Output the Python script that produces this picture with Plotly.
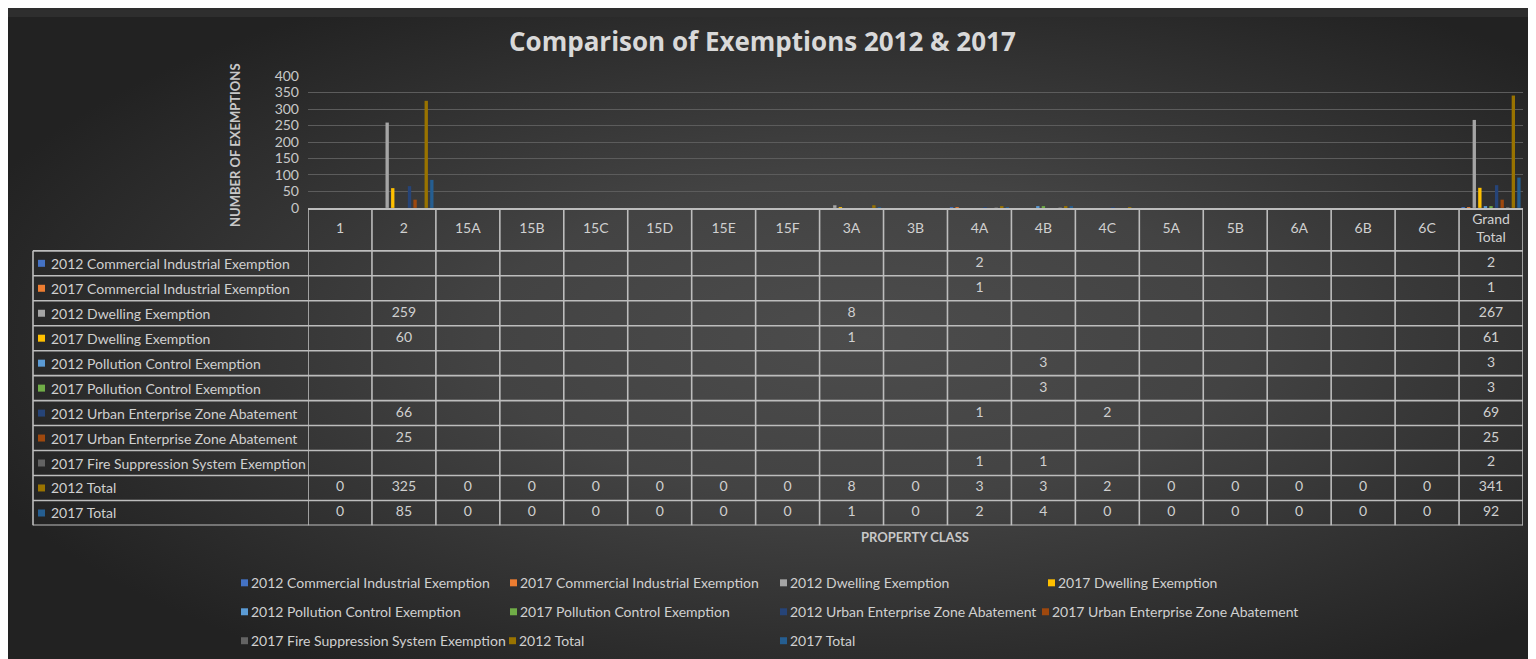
import base64
import plotly.graph_objects as go

# ---------------- data ----------------
categories = ["1", "2", "15A", "15B", "15C", "15D", "15E", "15F", "3A", "3B",
              "4A", "4B", "4C", "5A", "5B", "6A", "6B", "6C", "Grand Total"]
N = None
series_names = [
    "2012 Commercial Industrial Exemption",
    "2017 Commercial Industrial Exemption",
    "2012 Dwelling Exemption",
    "2017 Dwelling Exemption",
    "2012 Pollution Control Exemption",
    "2017 Pollution Control Exemption",
    "2012 Urban Enterprise Zone Abatement",
    "2017 Urban Enterprise Zone Abatement",
    "2017 Fire Suppression System Exemption",
    "2012 Total",
    "2017 Total",
]
com_2012 = [N, N, N, N, N, N, N, N, N, N, 2, N, N, N, N, N, N, N, 2]
com_2017 = [N, N, N, N, N, N, N, N, N, N, 1, N, N, N, N, N, N, N, 1]
dwe_2012 = [N, 259, N, N, N, N, N, N, 8, N, N, N, N, N, N, N, N, N, 267]
dwe_2017 = [N, 60, N, N, N, N, N, N, 1, N, N, N, N, N, N, N, N, N, 61]
pol_2012 = [N, N, N, N, N, N, N, N, N, N, N, 3, N, N, N, N, N, N, 3]
pol_2017 = [N, N, N, N, N, N, N, N, N, N, N, 3, N, N, N, N, N, N, 3]
uez_2012 = [N, 66, N, N, N, N, N, N, N, N, 1, N, 2, N, N, N, N, N, 69]
uez_2017 = [N, 25, N, N, N, N, N, N, N, N, N, N, N, N, N, N, N, N, 25]
fire_2017 = [N, N, N, N, N, N, N, N, N, N, 1, 1, N, N, N, N, N, N, 2]
tot_2012 = [0, 325, 0, 0, 0, 0, 0, 0, 8, 0, 3, 3, 2, 0, 0, 0, 0, 0, 341]
tot_2017 = [0, 85, 0, 0, 0, 0, 0, 0, 1, 0, 2, 4, 0, 0, 0, 0, 0, 0, 92]
series_values = [com_2012, com_2017, dwe_2012, dwe_2017, pol_2012, pol_2017,
                 uez_2012, uez_2017, fire_2017, tot_2012, tot_2017]

# ---------------- style ----------------
colors = ["#4472C4", "#ED7D31", "#A5A5A5", "#FFC000", "#5B9BD5", "#70AD47",
          "#264478", "#9E480E", "#636363", "#997300", "#255E91"]
W, H = 1528, 659
FONT = "Lato"
TXT = "#d0d0d0"
LINE = "#bdbdbd"


# screen-pixel -> paper helpers (page offset / rendered height as observed)
def px(x):
    return (x - 8) / W


def py(y):
    return 1 - (y - 15.8) / 643.0


HEADER_TOP = -2.22  # table header top in row units (y2)
NROWS = len(series_names)

fig = go.Figure()

# bars
for name, vals, col in zip(series_names, series_values, colors):
    fig.add_trace(go.Bar(x=categories, y=vals, name=name, marker_color=col,
                         marker_line_width=0, showlegend=False,
                         xaxis="x", yaxis="y"))

# header labels of the data table
fig.add_trace(go.Scatter(
    x=categories, y=[(HEADER_TOP - 0.5) / 2] * len(categories),
    text=[c.replace(" ", "<br>") for c in categories], mode="text",
    textfont=dict(family=FONT, size=14, color=TXT), hoverinfo="skip",
    showlegend=False, xaxis="x", yaxis="y2"))

# data table cells
for i, vals in enumerate(series_values):
    fig.add_trace(go.Scatter(
        x=categories, y=[i] * len(categories),
        text=["" if v is None else str(v) for v in vals], mode="text",
        textfont=dict(family=FONT, size=14, color=TXT), hoverinfo="skip",
        showlegend=False, xaxis="x", yaxis="y2"))

shapes = []
annotations = []

# table grid lines
for k in range(len(categories) + 1):
    shapes.append(dict(type="line", xref="x", yref="y2", x0=k - 0.5, x1=k - 0.5,
                       y0=HEADER_TOP, y1=NROWS - 0.5,
                       line=dict(color=LINE, width=1.6)))
for r in range(NROWS + 1):
    shapes.append(dict(type="line", xref="paper", yref="y2", x0=px(33), x1=px(1523),
                       y0=r - 0.5, y1=r - 0.5, line=dict(color=LINE, width=1.6)))
shapes.append(dict(type="line", xref="paper", yref="y2", x0=px(33), x1=px(33),
                   y0=-0.5, y1=NROWS - 0.5, line=dict(color=LINE, width=1.6)))

# row labels with colour keys
for i, (name, col) in enumerate(zip(series_names, colors)):
    shapes.append(dict(type="rect", xref="paper", yref="y2", x0=px(38), x1=px(45),
                       y0=i - 0.14, y1=i + 0.14, fillcolor=col, line_width=0))
    annotations.append(dict(text=name, xref="paper", yref="y2", x=px(49), y=i,
                            xanchor="left", yanchor="middle", showarrow=False,
                            font=dict(family=FONT, size=14, color=TXT)))

# legend (manual, Excel-like layout)
legend_rows = [[0, 1, 2, 3], [4, 5, 6, 7], [8, 9, 10]]
legend_x = [[251, 520, 790, 1058], [251, 520, 790, 1052], [251, 519, 790]]
legend_y = [582.5, 611.5, 640.5]
for row, xs, yy in zip(legend_rows, legend_x, legend_y):
    for idx, xx in zip(row, xs):
        shapes.append(dict(type="rect", xref="paper", yref="paper",
                           x0=px(xx - 10), x1=px(xx - 3),
                           y0=py(yy + 3.5), y1=py(yy - 3.5),
                           fillcolor=colors[idx], line_width=0))
        annotations.append(dict(text=series_names[idx], xref="paper", yref="paper",
                                x=px(xx - 2), y=py(yy), xanchor="left",
                                yanchor="middle", showarrow=False,
                                font=dict(family=FONT, size=14, color=TXT)))

# titles
annotations.append(dict(text="<b>Comparison of Exemptions 2012 &amp; 2017</b>",
                        xref="paper", yref="paper", x=px(762), y=py(40),
                        xanchor="center", yanchor="middle", showarrow=False,
                        font=dict(family="Open Sans", size=26, color="#d9d9d9")))
annotations.append(dict(text="<b>NUMBER OF EXEMPTIONS</b>", xref="paper", yref="paper",
                        x=px(235), y=py(144), xanchor="center", yanchor="middle",
                        textangle=-90, showarrow=False,
                        font=dict(family=FONT, size=13, color="#c8c8c8")))
annotations.append(dict(text="<b>PROPERTY CLASS</b>", xref="paper", yref="paper",
                        x=px(915), y=py(537), xanchor="center", yanchor="middle",
                        showarrow=False,
                        font=dict(family=FONT, size=13, color="#c8c8c8")))

# background gradient
svg = ("<svg xmlns='http://www.w3.org/2000/svg' width='1528' height='659'>"
       "<defs><radialGradient id='g' cx='0.56' cy='0.5' r='0.62'>"
       "<stop offset='0' stop-color='#4c4c4c'/>"
       "<stop offset='0.4' stop-color='#434343'/>"
       "<stop offset='1' stop-color='#222222'/>"
       "</radialGradient></defs>"
       "<rect width='1528' height='659' fill='url(#g)'/></svg>")
src = "data:image/svg+xml;base64," + base64.b64encode(svg.encode()).decode()

fig.update_layout(
    width=W, height=H,
    margin=dict(l=0, r=0, t=0, b=0),
    paper_bgcolor="#2e2e2e",
    plot_bgcolor="rgba(0,0,0,0)",
    barmode="group", bargap=0.04, bargroupgap=0.4,
    font=dict(family=FONT, color=TXT),
    xaxis=dict(domain=[px(308), px(1523)], range=[-0.5, len(categories) - 0.5],
               type="category", categoryorder="array", categoryarray=categories,
               showticklabels=False, showgrid=False, zeroline=False,
               showline=True, linecolor=LINE, linewidth=1.6, anchor="y", ticks=""),
    yaxis=dict(domain=[py(207), py(75)], range=[0, 400], dtick=50,
               showgrid=True, gridcolor="#5c5c5c", gridwidth=1, zeroline=False,
               tickfont=dict(family=FONT, size=14, color="#c8c8c8"),
               ticklabelstandoff=8, anchor="x", showline=False),
    yaxis2=dict(domain=[py(525), py(207)], range=[NROWS - 0.5, HEADER_TOP],
                visible=False, anchor="x", showgrid=False, zeroline=False),
    shapes=shapes,
    annotations=annotations,
    images=[dict(source=src, xref="paper", yref="paper", x=0, y=1,
                 sizex=1, sizey=1, sizing="stretch",
                 xanchor="left", yanchor="top", layer="below")],
)

fig.write_html("out.html")
